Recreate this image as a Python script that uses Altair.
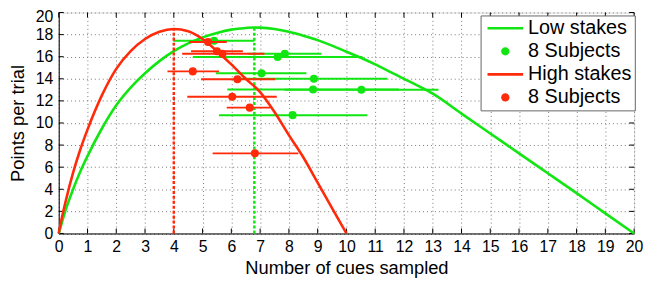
import altair as alt
import pandas as pd

# ---- model curves ----
low_curve_x = [0, 0.1, 0.25, 0.5, 0.75, 1, 1.5, 2, 2.5, 3, 3.5, 4, 4.5, 5, 5.5, 6, 6.5, 6.8, 7, 7.5,
               8, 8.5, 9, 9.5, 10, 10.5, 11, 11.5, 12, 12.5, 13, 14, 15, 16, 17, 18, 19, 20]
low_curve_y = [0, 0.9, 2.2, 4.0, 5.6, 7.0, 9.5, 11.6, 13.2, 14.5, 15.6, 16.5, 17.2, 17.75, 18.15, 18.45, 18.6, 18.65, 18.63, 18.5,
               18.25, 17.9, 17.5, 17.0, 16.45, 15.9, 15.3, 14.65, 14.0, 13.35, 12.65, 10.85, 9.05, 7.25, 5.45, 3.65, 1.82, 0]

high_curve_x = [0, 0.1, 0.25, 0.5, 0.75, 1, 1.5, 2, 2.5, 3, 3.5, 4, 4.5, 5, 5.5, 6, 6.5, 7, 7.5, 8, 8.5, 9, 9.5, 10]
high_curve_y = [0, 1.3, 3.0, 5.5, 7.6, 9.4, 12.5, 14.9, 16.5, 17.6, 18.25, 18.5, 18.3, 17.6, 16.5, 15.3, 14.0, 12.8, 11.0, 8.9, 6.9, 4.6, 2.3, 0]

# optimum (dashed verticals)
low_opt_x = [6.8]
low_opt_y = [18.65]
high_opt_x = [4.0]
high_opt_y = [18.5]

# ---- subjects (mean and horizontal error bars) ----
low_subj_x = [5.40, 7.86, 7.61, 7.05, 8.87, 8.84, 10.52, 8.13]
low_subj_y = [17.45, 16.27, 15.97, 14.50, 14.00, 13.03, 13.00, 10.71]
low_subj_lo = [4.00, 6.59, 4.66, 5.46, 6.32, 5.86, 7.85, 5.57]
low_subj_hi = [6.80, 9.13, 10.56, 8.61, 11.42, 11.82, 13.20, 10.73]

high_subj_x = [5.19, 5.69, 5.50, 4.66, 6.21, 6.03, 6.64, 6.82]
high_subj_y = [17.33, 16.27, 16.50, 14.67, 13.95, 12.37, 11.39, 7.25]
high_subj_lo = [4.54, 4.29, 4.60, 3.78, 4.95, 4.47, 5.84, 5.35]
high_subj_hi = [5.84, 7.15, 6.40, 5.57, 7.53, 7.58, 7.35, 8.33]

x_ticks = list(range(0, 21))
y_ticks = list(range(0, 21, 2))

legend_keys = ["a", "b", "c", "d"]
legend_labels = ["Low stakes", "8 Subjects", "High stakes", "8 Subjects"]

GREEN = "#12e612"
RED = "#ff2a0a"
FONT = "Liberation Sans"
W = 582
H = 223.5

xs = alt.Scale(domain=[0, 20], nice=False, zero=False)
ys = alt.Scale(domain=[0, 20], nice=False, zero=False)

x_axis = alt.Axis(values=x_ticks, grid=True, gridDash=[1, 3], gridColor="#777", gridWidth=1,
                  ticks=False, labelPadding=5, labelFontSize=16, labelFont=FONT, labelColor="black",
                  title="Number of cues sampled", titleFontSize=18.5, titleFont=FONT,
                  titleFontWeight="normal", titleColor="black", titlePadding=5,
                  domainColor="black", labelFlush=False)
y_axis = alt.Axis(values=y_ticks, grid=True, gridDash=[1, 3], gridColor="#777", gridWidth=1,
                  ticks=False, labelPadding=6, labelFontSize=16, labelFont=FONT, labelColor="black",
                  labelOffset=alt.condition("datum.value == 20", alt.value(4), alt.value(0)),
                  title="Points per trial", titleFontSize=18.5, titleFont=FONT,
                  titleFontWeight="normal", titleColor="black", titlePadding=8,
                  domainColor="black", labelFlush=False)

low_curve = pd.DataFrame({"x": low_curve_x, "y": low_curve_y})
high_curve = pd.DataFrame({"x": high_curve_x, "y": high_curve_y})
low_opt = pd.DataFrame({"x": low_opt_x, "y0": [0] * len(low_opt_x), "y": low_opt_y})
high_opt = pd.DataFrame({"x": high_opt_x, "y0": [0] * len(high_opt_x), "y": high_opt_y})
low_subj = pd.DataFrame({"x": low_subj_x, "y": low_subj_y, "lo": low_subj_lo, "hi": low_subj_hi})
high_subj = pd.DataFrame({"x": high_subj_x, "y": high_subj_y, "lo": high_subj_lo, "hi": high_subj_hi})


def curve(df, color):
    return alt.Chart(df).mark_line(color=color, strokeWidth=2.6, interpolate="monotone").encode(
        x=alt.X("x:Q", scale=xs, axis=x_axis),
        y=alt.Y("y:Q", scale=ys, axis=y_axis),
    )


def opt_line(df, color):
    return alt.Chart(df).mark_rule(color=color, strokeWidth=2.5, strokeDash=[3, 2]).encode(
        x=alt.X("x:Q", scale=xs, axis=x_axis),
        y=alt.Y("y0:Q", scale=ys, axis=y_axis),
        y2="y:Q",
    )


def bars(df, color):
    return alt.Chart(df).mark_rule(color=color, strokeWidth=2).encode(
        x=alt.X("lo:Q", scale=xs, axis=x_axis),
        x2="hi:Q",
        y=alt.Y("y:Q", scale=ys, axis=y_axis),
    )


def dots(df, color):
    return alt.Chart(df).mark_circle(color=color, size=66, opacity=1).encode(
        x=alt.X("x:Q", scale=xs, axis=x_axis),
        y=alt.Y("y:Q", scale=ys, axis=y_axis),
    )


# inward ticks on all four sides (MATLAB box style)
xt = pd.DataFrame({"x": x_ticks})
yt = pd.DataFrame({"y": y_ticks})
tick_b = alt.Chart(xt).mark_rule(color="black", strokeWidth=1).encode(
    x=alt.X("x:Q", scale=xs, axis=x_axis), y=alt.value(H), y2=alt.value(H - 5))
tick_t = alt.Chart(xt).mark_rule(color="black", strokeWidth=1).encode(
    x=alt.X("x:Q", scale=xs, axis=x_axis), y=alt.value(0), y2=alt.value(5))
tick_l = alt.Chart(yt).mark_rule(color="black", strokeWidth=1).encode(
    y=alt.Y("y:Q", scale=ys, axis=y_axis), x=alt.value(0), x2=alt.value(5))
tick_r = alt.Chart(yt).mark_rule(color="black", strokeWidth=1).encode(
    y=alt.Y("y:Q", scale=ys, axis=y_axis), x=alt.value(W), x2=alt.value(W - 5))

# legend (built from scale domains; the layer itself draws nothing)
# symbols are shifted right inside their path so no symbolOffset is needed
LINE_PATH = "M-0.6,-0.13H3.0V0.13H-0.6Z"
DOT_PATH = "M0.78,0A0.42,0.42,0,1,0,1.62,0A0.42,0.42,0,1,0,0.78,0Z"
label_expr = ("{'a':'Low stakes','b':'8 Subjects','c':'High stakes','d':'8 Subjects'}[datum.value]")
leg = alt.Legend(title=None, orient="none", legendX=426.7, legendY=3, padding=3,
                 strokeColor="#666", fillColor="white", labelFont=FONT, labelFontSize=20,
                 labelColor="black", symbolSize=400, labelOffset=25,
                 rowPadding=3.3, symbolStrokeWidth=0, labelExpr=label_expr, labelLimit=300)
legend_df = pd.DataFrame({"key": legend_keys, "label": legend_labels, "x": [0] * 4, "y": [0] * 4})
legend_layer = alt.Chart(legend_df).transform_filter("datum.key == 'none'").mark_point(
    filled=True, opacity=1).encode(
    x=alt.X("x:Q", scale=xs, axis=x_axis),
    y=alt.Y("y:Q", scale=ys, axis=y_axis),
    color=alt.Color("key:N", scale=alt.Scale(domain=legend_keys, range=[GREEN, GREEN, RED, RED]), legend=leg),
    shape=alt.Shape("key:N", scale=alt.Scale(domain=legend_keys,
                                             range=[LINE_PATH, DOT_PATH, LINE_PATH, DOT_PATH]), legend=leg),
)

chart = alt.layer(
    tick_b, tick_t, tick_l, tick_r,
    curve(low_curve, GREEN), opt_line(low_opt, GREEN), bars(low_subj, GREEN), dots(low_subj, GREEN),
    curve(high_curve, RED), opt_line(high_opt, RED), bars(high_subj, RED), dots(high_subj, RED),
    legend_layer,
).properties(
    width=W, height=H,
    autosize=alt.AutoSizeParams(type="none"),
    padding={"left": 51.3, "top": 3, "right": 11, "bottom": 44},
).configure_view(stroke="black", strokeWidth=1).configure(background="white")

chart.save("out.html", embed_options={"renderer": "svg", "actions": False})
